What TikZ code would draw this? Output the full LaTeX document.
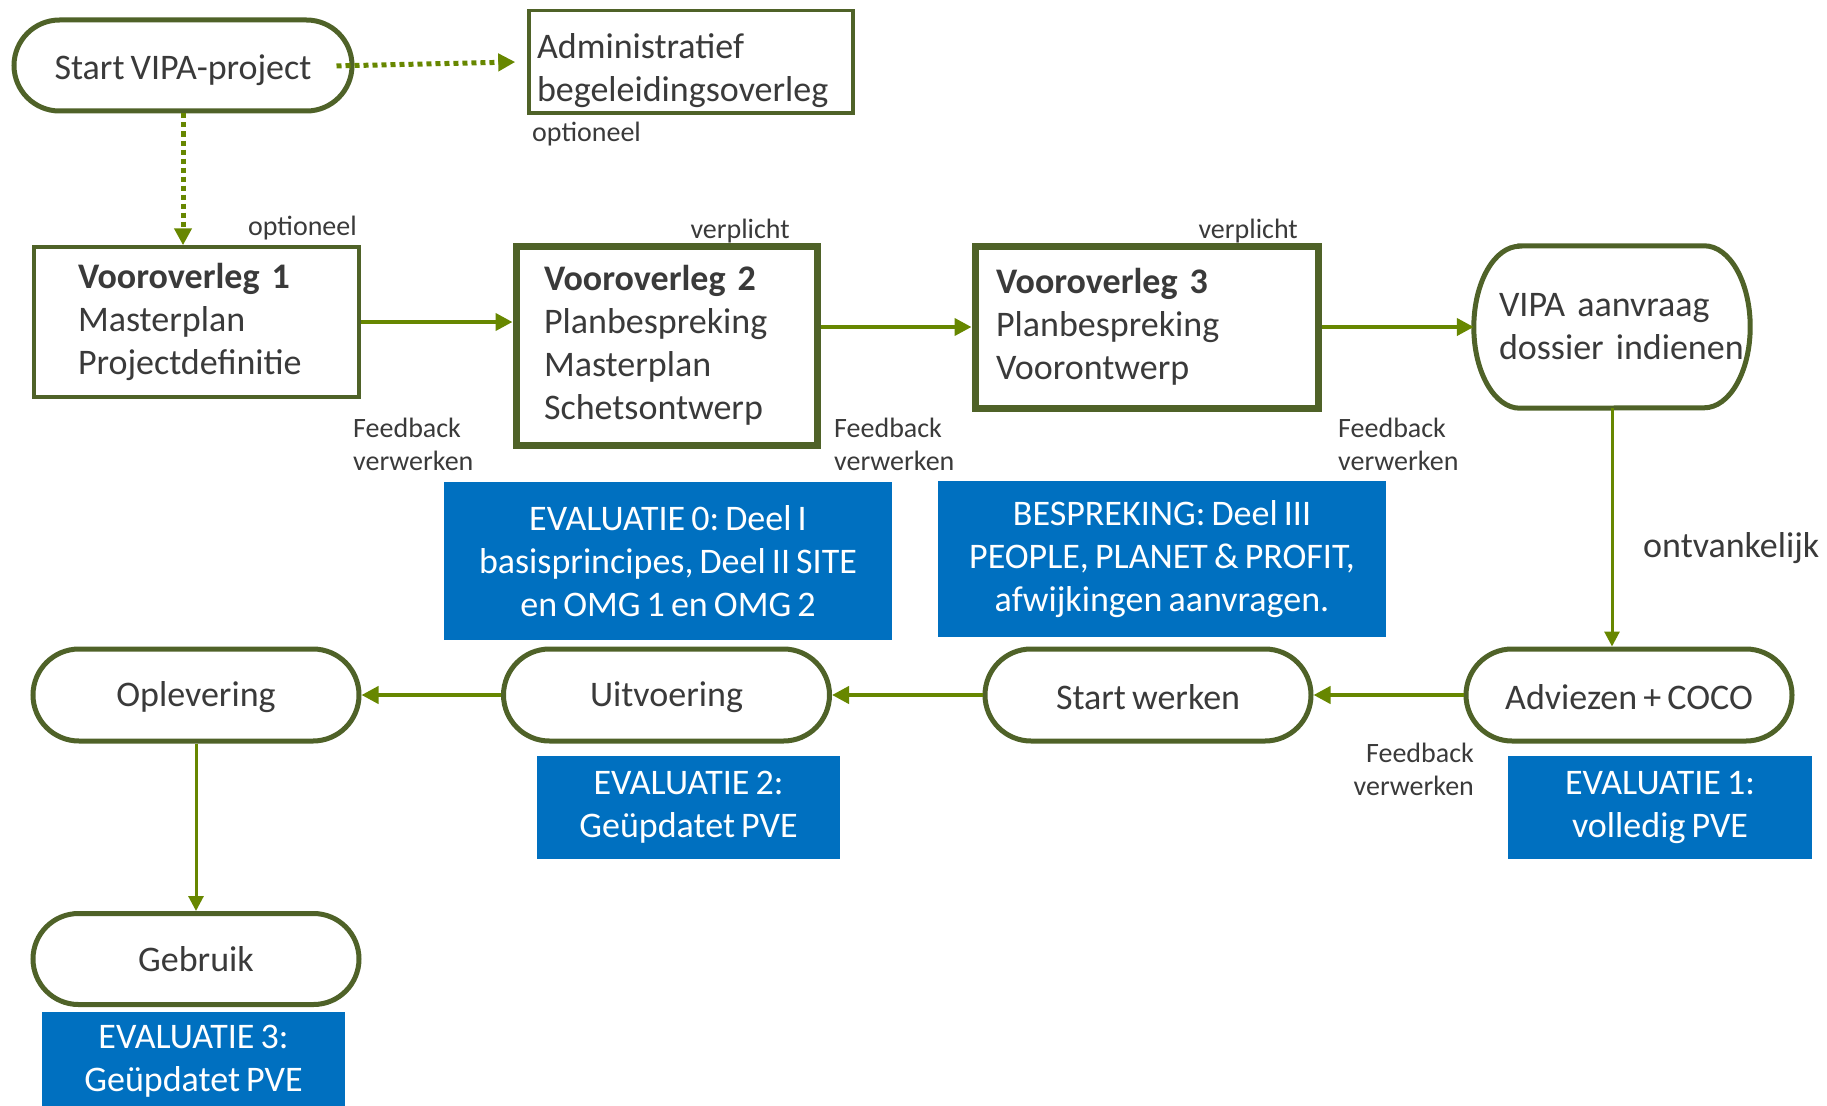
\documentclass[tikz,border=0pt]{standalone}
\usepackage{fontspec}
\setmainfont[WordSpace=0.75]{Carlito}
\usetikzlibrary{shapes.misc,arrows.meta}
\definecolor{olivedark}{HTML}{4F6228}
\definecolor{arrowgreen}{HTML}{678700}
\definecolor{boxblue}{HTML}{0070C0}
\definecolor{txt}{HTML}{3A3A3A}
\frenchspacing
\newcommand\lowerby[2]{\raisebox{-#1}[\height][\depth]{#2}}
\begin{document}
\begin{tikzpicture}[x=1pt,y=-1pt,
  every node/.style={text=txt},
  mainfont/.style={font=\fontsize{36}{43}\selectfont},
  smallfont/.style={font=\fontsize{28}{33}\selectfont},
  term/.style={rounded rectangle, draw=olivedark, line width=5pt, fill=white, minimum width=326pt, minimum height=92pt, inner sep=0pt, mainfont},
  stepbox/.style={rectangle, draw=olivedark, fill=white, align=left, mainfont, inner ysep=0pt},
  bluebox/.style={rectangle, fill=boxblue, text=white, align=center, mainfont, inner sep=0pt},
  lbl/.style={smallfont, inner sep=0pt},
  flow/.style={draw=arrowgreen, line width=4pt, -{Triangle[length=17pt,width=17pt]}},
  vflow/.style={draw=arrowgreen, line width=3pt, -{Triangle[length=15pt,width=15pt]}},
  dotflow/.style={draw=arrowgreen, line width=5pt, dash pattern=on 5pt off 4pt, -{Triangle[length=17pt,width=17pt]}},
]
\useasboundingbox (0,0) rectangle (1827,1105);

% top row
\node[term, minimum width=338pt, minimum height=91pt] (start) at (183,65.5) {\lowerby{5pt}{Start VIPA-project}};
\node[rectangle, draw=olivedark, fill=white, mainfont, line width=3.5pt, minimum height=102.5pt, minimum width=324pt, inner xsep=8pt, inner ysep=0pt] (admin) at (691,61.75) {\lowerby{9pt}{\parbox[c]{308pt}{\raggedright Administratief\\begeleidingsoverleg}}};
\node[lbl, anchor=west] (optA) at (532,134) {optioneel};

% middle row
\node[stepbox, line width=3.5pt, minimum height=150pt, inner xsep=44pt, text width=237pt] (vo1) at (196.5,322) {\textbf{Vooroverleg 1}\\Masterplan\\Projectdefinitie};
\node[stepbox, line width=7pt, minimum height=199pt, inner xsep=28pt, text width=245pt] (vo2) at (666.5,345.5) {\textbf{Vooroverleg 2}\\Planbespreking\\Masterplan\\Schetsontwerp};
\node[stepbox, line width=7pt, minimum height=162pt, inner xsep=21pt, text width=301pt] (vo3) at (1146.5,327) {\textbf{Vooroverleg 3}\\Planbespreking\\Voorontwerp};
\node[rectangle, align=left, mainfont, inner ysep=0pt, minimum height=162pt, inner xsep=25pt, text width=226pt] (vipa) at (1612,327) {VIPA aanvraag\\\mbox{dossier indienen}};
\draw[draw=olivedark, line width=5pt]
  ([xshift=46pt]vipa.north west) -- ([xshift=-46pt]vipa.north east)
  arc[start angle=90, end angle=-90, x radius=46pt, y radius=81pt]
  -- ([xshift=46pt]vipa.south west)
  arc[start angle=270, end angle=90, x radius=46pt, y radius=81pt] -- cycle;

\node[lbl, anchor=east] (opt1) at (357,228) {optioneel};
\node[lbl, anchor=east] (ver2) at (790,231) {verplicht};
\node[lbl, anchor=east] (ver3) at (1298,231) {verplicht};

\node[lbl, anchor=west, align=left] (fb1) at (353,444) {Feedback\\verwerken};
\node[lbl, anchor=west, align=left] (fb2) at (834,444) {Feedback\\verwerken};
\node[lbl, anchor=west, align=left] (fb3) at (1338,444) {Feedback\\verwerken};
\node[lbl, anchor=east, align=right] (fb4) at (1474,769) {Feedback\\verwerken};
\node[mainfont, inner sep=0pt, anchor=west] (ontv) at (1643,548) {ontvankelijk};

% blue boxes
\node[bluebox, minimum width=448.5pt, minimum height=158pt] (eval0) at (668,561) {EVALUATIE 0: Deel I\\basisprincipes, Deel II SITE\\en OMG 1 en OMG 2};
\node[bluebox, minimum width=448.5pt, minimum height=156pt] (besp) at (1162,559) {BESPREKING: Deel III\\PEOPLE, PLANET \& PROFIT,\\afwijkingen aanvragen.};
\node[bluebox, minimum width=303pt, minimum height=103pt] (eval2) at (688.5,807.5) {EVALUATIE 2:\\Geüpdatet PVE};
\node[bluebox, minimum width=304pt, minimum height=103pt] (eval1) at (1660,807.5) {EVALUATIE 1:\\volledig PVE};
\node[bluebox, minimum width=303pt, minimum height=100pt] (eval3) at (193.5,1061.5) {EVALUATIE 3:\\Geüpdatet PVE};

% bottom row
\node[term] (adv) at (1629,695) {\lowerby{2.5pt}{Adviezen + COCO}};
\node[term] (sw) at (1148,695) {\lowerby{2.5pt}{Start werken}};
\node[term] (uit) at (666.5,695) {\lowerby{2.5pt}{Uitvoering}};
\node[term] (opl) at (196,695) {\lowerby{2.5pt}{Oplevering}};
\node[term, minimum height=91pt] (geb) at (196,959) {Gebruik};

% connectors
\draw[dotflow, shorten <=-18pt, shorten >=12pt] (start.east) -- (admin.west);
\draw[dotflow] (start.south) -- (start.south |- vo1.north);
\draw[flow] (vo1.east) -- (vo1.east -| vo2.west);
\draw[flow] (vo2.east |- vo3.west) -- (vo3.west);
\draw[flow] (vo3.east) -- (vipa.west);
\draw[vflow] (vipa.south) -- (vipa.south |- adv.north);
\draw[flow] (adv.west) -- (sw.east);
\draw[flow] (sw.west) -- (uit.east);
\draw[flow] (uit.west) -- (opl.east);
\draw[vflow] (opl.south) -- (geb.north);
\end{tikzpicture}
\end{document}
